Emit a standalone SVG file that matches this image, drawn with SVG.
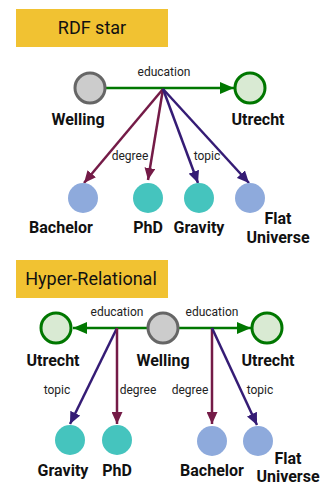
<svg xmlns="http://www.w3.org/2000/svg" width="323" height="485" viewBox="0 0 323 485">
<defs>
<style>
.title{fill:#f1c232}
.tt{font-family:Roboto,"Liberation Sans",sans-serif;font-size:18px;fill:#111}
.el{font-family:Roboto,"Liberation Sans",sans-serif;font-size:12px;fill:#222;text-anchor:middle}
.nl{font-family:Roboto,"Liberation Sans",sans-serif;font-size:16px;font-weight:bold;fill:#111;text-anchor:middle}
.person{fill:#cccccc;stroke:#666666;stroke-width:3}
.place{fill:#d9ead3;stroke:#007700;stroke-width:3}
.blue{fill:#8eaadc}
.teal{fill:#45c4be}
.g{stroke:#007700;stroke-width:2.5;fill:none}
.d{stroke:#741b47;stroke-width:2.5;fill:none}
.t{stroke:#351c75;stroke-width:2.5;fill:none}
</style>
<marker id="ag" viewBox="0 0 14 12" refX="14" refY="6" markerWidth="14" markerHeight="12" markerUnits="userSpaceOnUse" orient="auto"><path d="M0,0 L14,6 L0,12 z" fill="#007700"/></marker>
<marker id="ad" viewBox="0 0 12 11" refX="12" refY="5.5" markerWidth="12" markerHeight="11" markerUnits="userSpaceOnUse" orient="auto"><path d="M0,0 L12,5.5 L0,11 z" fill="#741b47"/></marker>
<marker id="at" viewBox="0 0 12 11" refX="12" refY="5.5" markerWidth="12" markerHeight="11" markerUnits="userSpaceOnUse" orient="auto"><path d="M0,0 L12,5.5 L0,11 z" fill="#351c75"/></marker>
</defs>

<g id="title-rdf"><rect class="title" x="16" y="9" width="152" height="38"/><text class="tt" x="92" y="34" text-anchor="middle">RDF star</text></g>
<g id="title-hyper"><rect class="title" x="16" y="260" width="152" height="38"/><text class="tt" x="91" y="285" text-anchor="middle">Hyper-Relational</text></g>

<g id="connectors">
<line class="g" x1="106" y1="88" x2="234" y2="88" marker-end="url(#ag)"/>
<text class="el" x="164" y="76">education</text>
<line class="d" x1="163" y1="89" x2="84" y2="183" marker-end="url(#ad)"/>
<line class="d" x1="163" y1="89" x2="148" y2="180" marker-end="url(#ad)"/>
<line class="t" x1="163" y1="89" x2="198" y2="183" marker-end="url(#at)"/>
<line class="t" x1="163" y1="89" x2="249" y2="183" marker-end="url(#at)"/>
<text class="el" x="130" y="160">degree</text>
<text class="el" x="207" y="160">topic</text>

<line class="g" x1="147" y1="328" x2="73" y2="328" marker-end="url(#ag)"/>
<line class="g" x1="178" y1="328" x2="251" y2="328" marker-end="url(#ag)"/>
<text class="el" x="117" y="316">education</text>
<text class="el" x="212" y="316">education</text>
<line class="t" x1="117" y1="328" x2="70" y2="424" marker-end="url(#at)"/>
<line class="d" x1="117" y1="328" x2="117" y2="424" marker-end="url(#ad)"/>
<line class="d" x1="212" y1="328" x2="212" y2="424" marker-end="url(#ad)"/>
<line class="t" x1="212" y1="328" x2="257" y2="425" marker-end="url(#at)"/>
<text class="el" x="57" y="394">topic</text>
<text class="el" x="138" y="394">degree</text>
<text class="el" x="190" y="394">degree</text>
<text class="el" x="260" y="394">topic</text>
</g>

<g id="n-welling1"><circle class="person" cx="90" cy="88" r="15"/><text class="nl" x="78" y="125">Welling</text></g>
<g id="n-utrecht1"><circle class="place" cx="250" cy="88" r="15"/><text class="nl" x="258" y="125">Utrecht</text></g>
<g id="n-bachelor1"><circle class="blue" cx="83" cy="198" r="15"/><text class="nl" x="61" y="233">Bachelor</text></g>
<g id="n-phd1"><circle class="teal" cx="148" cy="198" r="15"/><text class="nl" x="148" y="233">PhD</text></g>
<g id="n-gravity1"><circle class="teal" cx="199" cy="198" r="15"/><text class="nl" x="199" y="233">Gravity</text></g>
<g id="n-flat1"><circle class="blue" cx="250" cy="198" r="15"/><text class="nl" x="278" y="224">Flat</text><text class="nl" x="278" y="243">Universe</text></g>

<g id="n-utrecht2a"><circle class="place" cx="56" cy="328" r="15"/><text class="nl" x="53" y="366">Utrecht</text></g>
<g id="n-welling2"><circle class="person" cx="163" cy="328" r="15"/><text class="nl" x="163" y="366">Welling</text></g>
<g id="n-utrecht2b"><circle class="place" cx="267" cy="328" r="15"/><text class="nl" x="268" y="366">Utrecht</text></g>
<g id="n-gravity2"><circle class="teal" cx="70" cy="440" r="15"/><text class="nl" x="63" y="476">Gravity</text></g>
<g id="n-phd2"><circle class="teal" cx="117" cy="440" r="15"/><text class="nl" x="117" y="476">PhD</text></g>
<g id="n-bachelor2"><circle class="blue" cx="212" cy="441" r="15"/><text class="nl" x="212" y="476">Bachelor</text></g>
<g id="n-flat2"><circle class="blue" cx="258" cy="441" r="15"/><text class="nl" x="288" y="464">Flat</text><text class="nl" x="288" y="482">Universe</text></g>
</svg>
